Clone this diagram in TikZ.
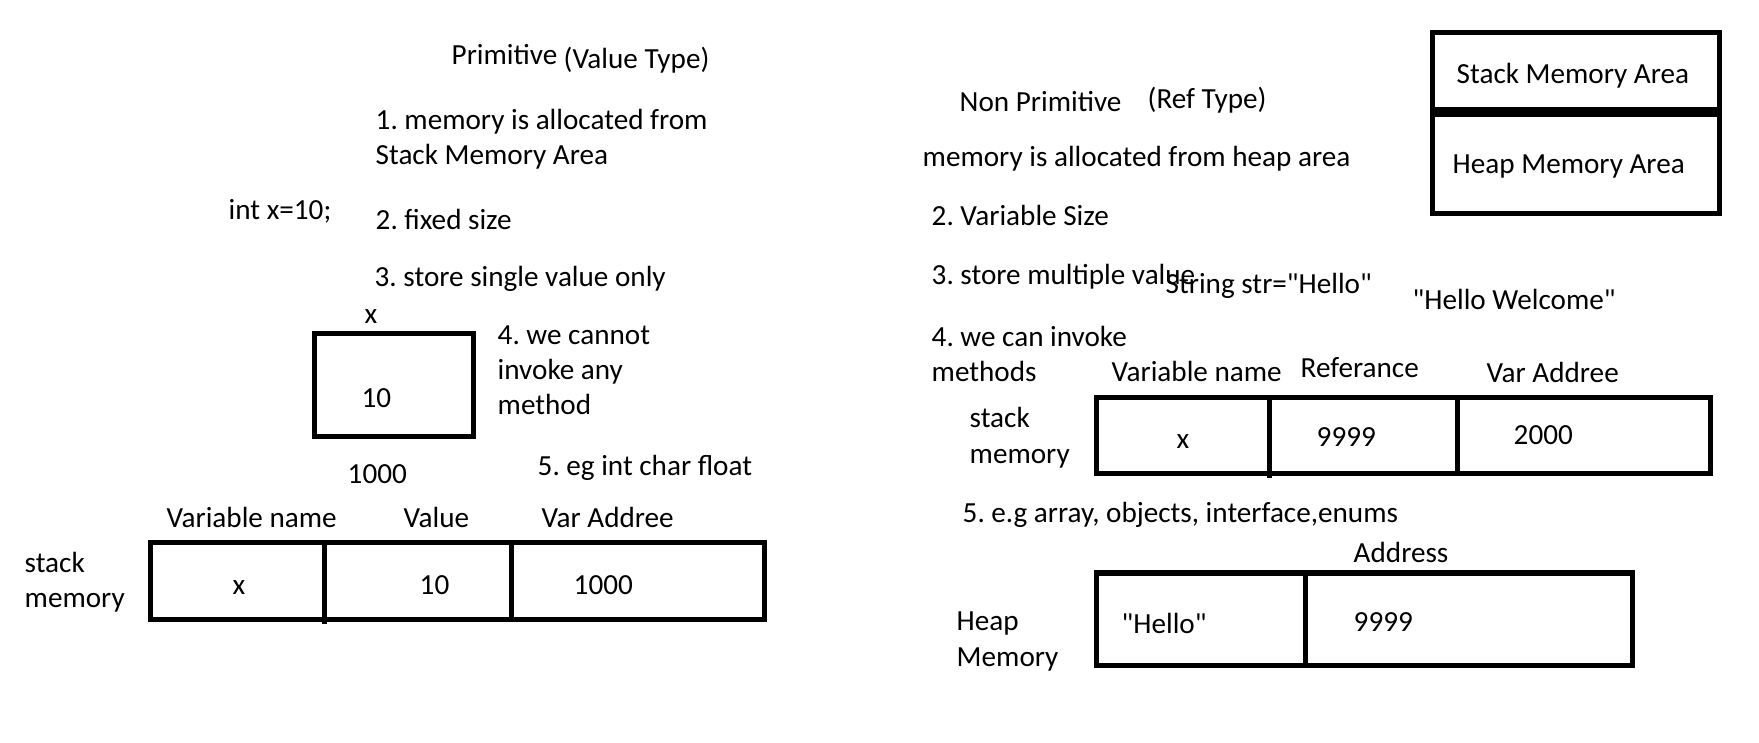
\documentclass[tikz,border=0pt]{standalone}
\usepackage{fontspec}
\setmainfont{Carlito}[Ligatures=TeXOff]
\frenchspacing
\begin{document}
\begin{tikzpicture}[x=1cm,y=1cm,font=\fontsize{8.3}{9.96}\selectfont,
  txt/.style={anchor=base west,inner sep=0pt,align=left,yshift=-0.02cm},
  cellline/.style={black,line width=0.05cm}]
  \path[use as bounding box] (0,0) rectangle (17.59,7.42);

  % Primitive side (multi-line nodes sit on their last line)
  \node[txt] (primhead) at (4.51,6.79) {Primitive};
  \node[txt] (primtype) at (5.63,6.75) {(Value Type)};
  \node[txt] (primone) at (3.75,5.79) {1. memory is allocated from\\Stack Memory Area};
  \node[txt] (primdecl) at (2.28,5.24) {int x=10;};
  \node[txt] (primtwo) at (3.75,5.14) {2. fixed size};
  \node[txt] (primthree) at (3.74,4.57) {3. store single value only};
  \node[txt] (primfour) at (4.97,3.29) {4. we cannot\\invoke any\\method};
  \node[txt] (primfive) at (5.37,2.68) {5. eg int char float};

  \draw[cellline] (3.14,4.08) rectangle (4.73,3.05);
  \node[txt] (boxname) at (3.64,4.20) {x};
  \node[txt] (boxval) at (3.61,3.36) {10};
  \node[txt] (boxaddr) at (3.47,2.60) {1000};

  \node[txt] (lhvar) at (1.66,2.16) {Variable name};
  \node[txt] (lhval) at (4.03,2.16) {Value};
  \node[txt] (lhaddr) at (5.41,2.16) {Var Addree};
  \node[txt] (lstack) at (0.24,1.36) {stack\\memory};
  \draw[cellline] (1.50,1.99) rectangle (7.64,1.23);
  \draw[cellline] (3.24,1.99) -- (3.24,1.18);
  \draw[cellline] (5.11,1.99) -- (5.11,1.23);
  \node[txt] (lcvar) at (2.32,1.50) {x};
  \node[txt] (lcval) at (4.19,1.50) {10};
  \node[txt] (lcaddr) at (5.73,1.50) {1000};

  % Non primitive side
  \node[txt] (refhead) at (9.59,6.32) {Non Primitive};
  \node[txt] (reftype) at (11.47,6.35) {(Ref Type)};
  \node[txt] (refone) at (9.22,5.77) {memory is allocated from heap area};
  \node[txt] (reftwo) at (9.31,5.18) {2. Variable Size};
  \node[txt] (refthree) at (9.31,4.59) {3. store multiple value};
  \node[txt] (refdecl) at (11.65,4.50) {String str="Hello"};
  \node[txt] (refwelcome) at (14.12,4.34) {"Hello Welcome"};
  \node[txt] (reffour) at (9.31,3.62) {4. we can invoke\\methods};

  \node[txt] (rhvar) at (11.11,3.62) {Variable name};
  \node[txt] (rhref) at (13.00,3.66) {Referance};
  \node[txt] (rhaddr) at (14.86,3.61) {Var Addree};
  \node[txt] (rstack) at (9.69,2.81) {stack\\memory};
  \draw[cellline] (10.96,3.44) rectangle (17.10,2.68);
  \draw[cellline] (12.69,3.44) -- (12.69,2.64);
  \draw[cellline] (14.57,3.44) -- (14.57,2.68);
  \node[txt] (rcvar) at (11.76,2.95) {x};
  \node[txt] (rcref) at (13.16,2.97) {9999};
  \node[txt] (rcaddr) at (15.13,2.99) {2000};

  \node[txt] (reffive) at (9.62,2.21) {5. e.g array, objects, interface,enums};
  \node[txt] (hhaddr) at (13.53,1.82) {Address};
  \node[txt] (rheap) at (9.56,0.78) {Heap\\Memory};
  \draw[cellline] (10.96,1.69) rectangle (16.32,0.77);
  \draw[cellline] (13.05,1.69) -- (13.05,0.74);
  \node[txt] (hcval) at (11.21,1.11) {"Hello"};
  \node[txt] (hcaddr) at (13.53,1.13) {9999};

  % memory areas
  \draw[cellline] (14.32,7.09) rectangle (17.19,6.32);
  \draw[cellline] (14.32,6.27) rectangle (17.19,5.28);
  \node[txt] (stackarea) at (14.56,6.60) {Stack Memory Area};
  \node[txt] (heaparea) at (14.52,5.70) {Heap Memory Area};
\end{tikzpicture}
\end{document}
